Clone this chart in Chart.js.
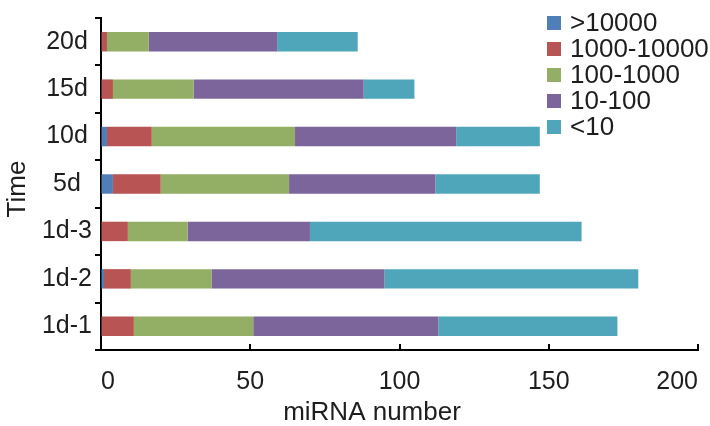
<!DOCTYPE html>
<html>
<head>
<meta charset="utf-8">
<script src="https://cdn.jsdelivr.net/npm/chart.js@4/dist/chart.umd.min.js"></script>
<style>
  html, body { margin: 0; padding: 0; background: #fff; }
  #wrap { width: 710px; height: 426px; }
</style>
</head>
<body>
<div id="wrap"><canvas id="myBarChart"></canvas></div>
<script>
// chart data
var timeLabels = ["20d", "15d", "10d", "5d", "1d-3", "1d-2", "1d-1"];
var seriesNames = [">10000", "1000-10000", "100-1000", "10-100", "<10"];
var seriesColors = ["#4F7FB8", "#B95455", "#93AF65", "#7B659B", "#4FA5BA"];
var over10000 = [0, 0, 2, 4, 0, 1, 0];
var from1000 = [2, 4, 15, 16, 9, 9, 11];
var from100 = [14, 27, 48, 43, 20, 27, 40];
var from10 = [43, 57, 54, 49, 41, 58, 62];
var under10 = [27, 17, 28, 35, 91, 85, 60];
var xTicks = [0, 50, 100, 150, 200];
var xTitle = 'miRNA number';
var yTitle = 'Time';

var seriesValues = [over10000, from1000, from100, from10, under10];
var textColor = '#1e1e1e';
var fontFamily = '"Liberation Sans", Arial, sans-serif';

// legend drawn inside the plot, top right
var innerLegend = {
    id: 'innerLegend',
    afterDraw: function (chart) {
        var ctx = chart.ctx;
        ctx.save();
        ctx.font = '26px ' + fontFamily;
        ctx.textBaseline = 'middle';
        ctx.textAlign = 'left';
        chart.data.datasets.forEach(function (ds, i) {
            var y = 23 + i * 26;
            ctx.fillStyle = ds.backgroundColor;
            ctx.fillRect(547, y - 7, 14, 14);
            ctx.fillStyle = textColor;
            ctx.fillText(ds.label, 570, y + 1);
        });
        ctx.restore();
    }
};

// x tick marks point up into the plot, axis titles a bit off-centre like the original
var axisExtras = {
    id: 'axisExtras',
    afterDraw: function (chart) {
        var sx = chart.scales.x;
        var ctx = chart.ctx;
        var bottom = chart.chartArea.bottom;
        ctx.save();
        ctx.strokeStyle = '#000';
        ctx.lineWidth = 2;
        sx.ticks.forEach(function (t) {
            var px = Math.round(sx.getPixelForValue(t.value));
            ctx.beginPath();
            ctx.moveTo(px, bottom);
            ctx.lineTo(px, bottom - 6);
            ctx.stroke();
        });

        ctx.fillStyle = textColor;
        ctx.font = '26px ' + fontFamily;
        ctx.textAlign = 'center';
        ctx.textBaseline = 'middle';
        ctx.fillText(xTitle, 372, 413);

        ctx.translate(18, 189);
        ctx.rotate(-Math.PI / 2);
        ctx.fillText(yTitle, 0, 0);
        ctx.restore();
    }
};

var ctx = document.getElementById("myBarChart");
var myBarChart = new Chart(ctx, {
    type: 'bar',
    data: {
        labels: timeLabels,
        datasets: seriesNames.map(function (name, i) {
            return {
                label: name,
                data: seriesValues[i],
                backgroundColor: seriesColors[i],
                borderWidth: 0,
                barPercentage: 0.41,
                categoryPercentage: 1
            };
        })
    },
    options: {
        indexAxis: 'y',
        responsive: true,
        maintainAspectRatio: false,
        animation: false,
        layout: {
            padding: { top: 12, right: 12, bottom: 0, left: 0 }
        },
        plugins: {
            legend: { display: false },
            tooltip: { enabled: false }
        },
        scales: {
            x: {
                stacked: true,
                min: 0,
                max: 200,
                afterBuildTicks: function (scale) {
                    scale.ticks = xTicks.map(function (v) { return { value: v }; });
                },
                afterFit: function (scale) {
                    scale.height = 76;
                    scale.paddingLeft = 0;
                    scale.paddingRight = 0;
                },
                grid: { display: true, drawOnChartArea: false, drawTicks: false },
                border: { display: true, color: '#000', width: 2 },
                ticks: {
                    align: 'inner',
                    padding: 17,
                    color: textColor,
                    font: { family: fontFamily, size: 25 },
                    maxRotation: 0
                }
            },
            y: {
                stacked: true,
                afterFit: function (scale) {
                    scale.width = 101;
                },
                grid: {
                    display: true,
                    offset: true,
                    drawOnChartArea: false,
                    drawTicks: true,
                    tickLength: 6,
                    color: '#000',
                    lineWidth: 2
                },
                border: { display: true, color: '#000', width: 2 },
                ticks: {
                    crossAlign: 'center',
                    padding: 3,
                    color: textColor,
                    font: { family: fontFamily, size: 25 }
                }
            }
        }
    },
    plugins: [innerLegend, axisExtras]
});
</script>
</body>
</html>
